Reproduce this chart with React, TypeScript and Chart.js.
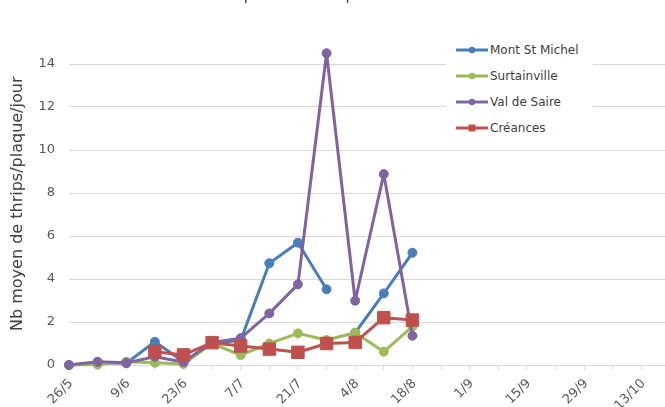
import React, { useEffect, useRef } from 'react';
import { Chart, registerables } from 'chart.js';

Chart.register(...registerables);

const chartTitle = 'Suivi des captures de thrips sur les différents sites';
const yAxisTitle = 'Nb moyen de thrips/plaque/jour';

const dates = ['26/5', '2/6', '9/6', '16/6', '23/6', '30/6', '7/7', '14/7', '21/7', '28/7', '4/8',
  '11/8', '18/8', '25/8', '1/9', '8/9', '15/9', '22/9', '29/9', '6/10', '13/10', '20/10'];

const montStMichel = [0, 0.1, 0.08, 1.08, 0.15, 1.0, 1.15, 4.73, 5.69, 3.52, 1.5, 3.33, 5.22,
  null, null, null, null, null, null, null, null, null];
const surtainville = [0, 0.02, 0.15, 0.1, 0.05, 1.0, 0.46, 1.0, 1.47, 1.16, 1.5, 0.62, 1.78,
  null, null, null, null, null, null, null, null, null];
const valDeSaire = [0, 0.15, 0.1, 0.38, 0.14, 1.05, 1.25, 2.4, 3.75, 14.5, 2.99, 8.88, 1.36,
  null, null, null, null, null, null, null, null, null];
const creances = [null, null, null, 0.62, 0.47, 1.04, 0.88, 0.74, 0.59, 1.0, 1.05, 2.2, 2.09,
  null, null, null, null, null, null, null, null, null];

// Mont St Michel has no line between these two dates in the source
const montGapFrom = '28/7';

const seriesNames = ['Mont St Michel', 'Surtainville', 'Val de Saire', 'Créances'];
const colors = ['#4A7EBB', '#9BBB59', '#8064A2', '#C0504D'];

const FONT = "'DejaVu Sans', Verdana, sans-serif";

function LegendSymbol({ color, square }: { color: string; square: boolean }) {
  return (
    <svg width={32} height={10} style={{ display: 'block' }}>
      <line x1={0} y1={5} x2={32} y2={5} stroke={color} strokeWidth={3} />
      {square ? (
        <rect x={12.5} y={1.5} width={7} height={7} fill={color} />
      ) : (
        <circle cx={16} cy={5} r={3.2} fill={color} />
      )}
    </svg>
  );
}

export default function App() {
  const ref = useRef<HTMLCanvasElement | null>(null);

  useEffect(() => {
    const canvas = ref.current;
    if (!canvas) return;
    const mk = (i: number, data: (number | null)[], extra: any = {}) => ({
      label: seriesNames[i],
      data,
      borderColor: colors[i],
      backgroundColor: colors[i],
      borderWidth: 3,
      borderJoinStyle: 'round',
      borderCapStyle: 'round',
      pointRadius: 4.5,
      pointHoverRadius: 4.5,
      pointBorderWidth: 1,
      pointBackgroundColor: colors[i],
      pointBorderColor: colors[i],
      tension: 0,
      spanGaps: false,
      clip: false,
      ...extra,
    });
    const chart = new Chart(canvas, {
      type: 'line',
      data: {
        labels: dates,
        datasets: [
          mk(0, montStMichel, {
            order: 3,
            segment: {
              borderColor: (ctx: any) => (dates[ctx.p0DataIndex] === montGapFrom ? 'rgba(0,0,0,0)' : colors[0]),
            },
          }),
          mk(1, surtainville, { order: 2 }),
          mk(2, valDeSaire, { order: 1 }),
          mk(3, creances, { order: 0, pointStyle: 'rect', pointRadius: 8.8, pointHoverRadius: 8.8 }),
        ],
      },
      options: {
        responsive: false,
        animation: false,
        devicePixelRatio: 1,
        layout: { padding: { left: 0, right: 0, top: 0, bottom: 0 } },
        plugins: {
          legend: { display: false },
          tooltip: { enabled: false },
          title: {
            display: true,
            text: chartTitle,
            color: '#404040',
            font: { family: FONT, size: 15, weight: 'normal' },
            padding: { top: 0, bottom: 37.5 },
          },
        },
        scales: {
          x: {
            type: 'category',
            offset: false,
            afterFit: (axis: any) => { axis.height = 58; },
            grid: { display: true, drawOnChartArea: false, drawTicks: true, tickLength: 5, color: '#D9D9D9' },
            border: { display: true, color: '#D9D9D9', width: 1 },
            ticks: {
              autoSkip: false,
              minRotation: 45,
              maxRotation: 45,
              padding: 6,
              labelOffset: 2,
              color: '#595959',
              font: { family: FONT, size: 13 },
              callback: (_v: any, i: number) => (i % 2 === 0 ? dates[i] : ''),
            },
          },
          y: {
            min: 0,
            max: 15,
            afterFit: (axis: any) => { axis.width = 69; },
            afterBuildTicks: (axis: any) => {
              axis.ticks = axis.ticks.filter((t: any) => t.value % 2 === 0);
            },
            grid: { color: '#D9D9D9', lineWidth: 1, drawTicks: false },
            border: { display: false },
            ticks: {
              stepSize: 2,
              padding: 14,
              color: '#595959',
              font: { family: FONT, size: 13 },
            },
            title: {
              display: true,
              text: yAxisTitle,
              color: '#404040',
              font: { family: FONT, size: 16 },
              padding: { top: 8, bottom: 0 },
            },
          },
        },
      },
    } as any);
    return () => chart.destroy();
  }, []);

  return (
    <div style={{ position: 'fixed', left: 0, top: 0, width: 665, height: 407, overflow: 'hidden', background: '#fff' }}>
      <canvas
        ref={ref}
        width={687}
        height={436}
        style={{ position: 'absolute', left: 0, top: -13, width: 687, height: 436 }}
      />
      <div
        style={{
          position: 'absolute', left: 446, top: 37, width: 147, height: 104, background: '#fff',
        }}
      >
        {seriesNames.map((name, i) => (
          <div
            key={name}
            style={{
              position: 'absolute', left: 10, top: i * 26, height: 26, display: 'flex', alignItems: 'center',
              fontFamily: FONT, fontSize: 12, color: '#404040', whiteSpace: 'nowrap',
            }}
          >
            <LegendSymbol color={colors[i]} square={i === 3} />
            <span style={{ marginLeft: 2 }}>{name}</span>
          </div>
        ))}
      </div>
    </div>
  );
}
